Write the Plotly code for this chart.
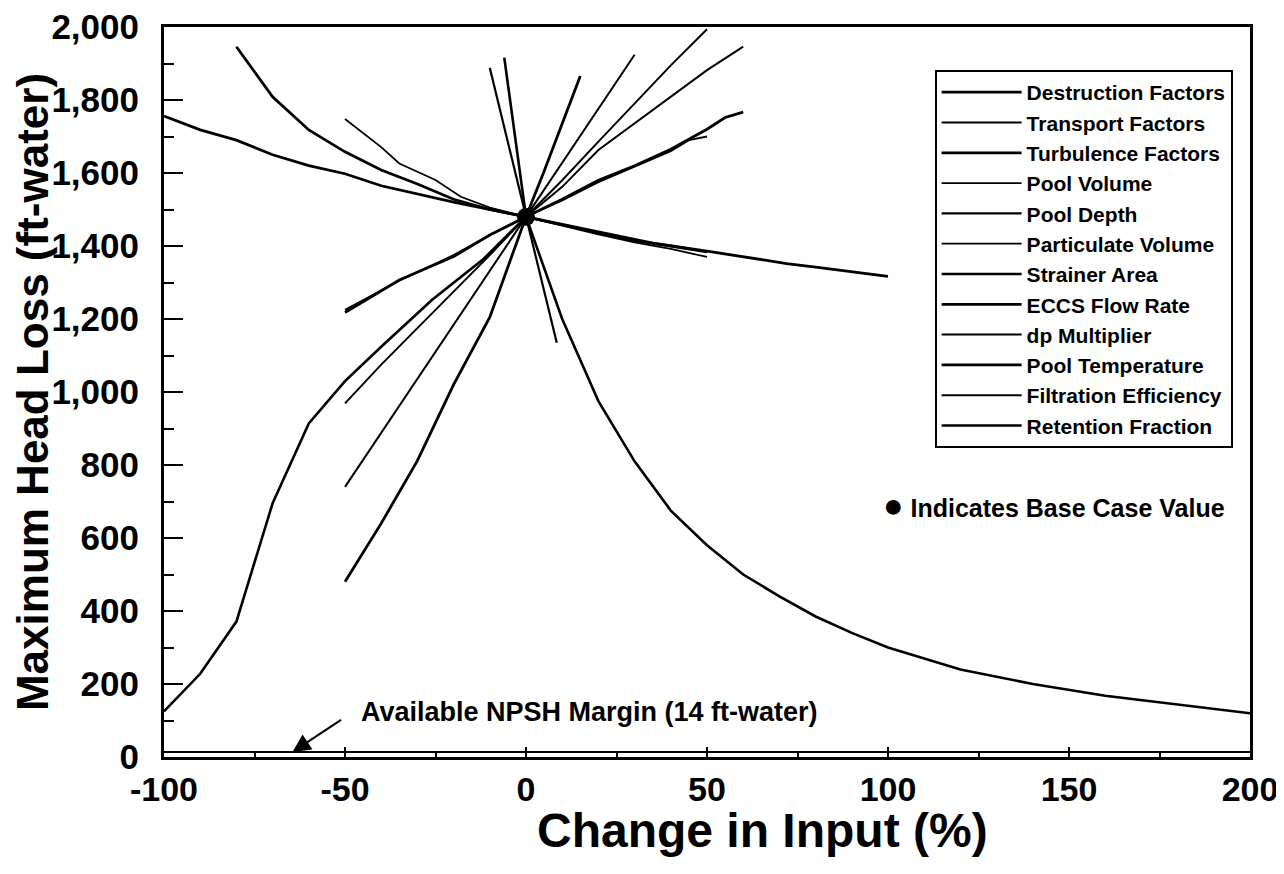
import plotly.graph_objects as go

# Sensitivity curves
destruction_x = [-50, -40, -30, -20, -10, 0, 5, 10, 15]
destruction_y = [480, 640, 812, 1020, 1205, 1480, 1605, 1735, 1866]

transport_x = [-50, -40, -30, -20, -10, 0, 10, 20, 30, 40, 50]
transport_y = [969, 1075, 1175, 1275, 1375, 1480, 1580, 1686, 1790, 1895, 1994]

turbulence_x = [-80, -70, -60, -50, -40, -30, -20, -10, 0, 10, 20, 30, 40, 50]
turbulence_y = [1946, 1809, 1718, 1658, 1608, 1570, 1528, 1500, 1480, 1458, 1436, 1415, 1400, 1384]

pool_volume_x = [-50, -40, -35, -25, -18, -10, 0, 10, 20, 30, 40, 50]
pool_volume_y = [1748, 1671, 1626, 1581, 1535, 1505, 1480, 1455, 1432, 1410, 1392, 1370]

pool_depth_x = [-10, -5, 0, 5, 8.5]
pool_depth_y = [1888, 1684, 1480, 1278, 1135]

particulate_x = [-50, -35, -20, -10, 0, 10, 20, 30, 40, 45, 50]
particulate_y = [1225, 1305, 1375, 1430, 1480, 1525, 1575, 1618, 1660, 1690, 1700]

strainer_x = [-6, -3, 0, 10, 20, 30, 40, 50, 60, 70, 80, 90, 100, 120, 140, 160, 180, 200]
strainer_y = [1916, 1700, 1480, 1200, 975, 810, 675, 580, 500, 440, 385, 340, 300, 240, 200, 168, 143, 120]

eccs_x = [-50, -35, -20, -10, 0, 10, 20, 30, 40, 50, 55, 60]
eccs_y = [1218, 1307, 1371, 1430, 1480, 1528, 1580, 1620, 1665, 1720, 1752, 1767]

dp_mult_x = [-50, -25, 0, 15, 30]
dp_mult_y = [740, 1110, 1480, 1702, 1924]

pool_temp_x = [-100, -90, -80, -70, -60, -50, -40, -20, 0, 20, 35, 50, 60, 72, 80, 100]
pool_temp_y = [1756, 1718, 1690, 1650, 1620, 1598, 1565, 1520, 1480, 1440, 1408, 1386, 1370, 1352, 1342, 1317]

filtration_x = [0, 10, 20, 35, 50, 60]
filtration_y = [1480, 1562, 1663, 1773, 1882, 1946]

retention_x = [-100, -90, -80, -70, -60, -50, -40, -26, -12, 0]
retention_y = [125, 228, 371, 695, 914, 1030, 1124, 1252, 1362, 1480]

base_x, base_y = 0, 1480
npsh_margin = 14

# tick labels use a plain hyphen like the original
x_tick_vals = [-100, -50, 0, 50, 100, 150, 200]
x_tick_text = ["-100", "-50", "0", "50", "100", "150", "200"]

series = [
    ("Destruction Factors", destruction_x, destruction_y, 2.8),
    ("Transport Factors", transport_x, transport_y, 2.0),
    ("Turbulence Factors", turbulence_x, turbulence_y, 2.8),
    ("Pool Volume", pool_volume_x, pool_volume_y, 1.8),
    ("Pool Depth", pool_depth_x, pool_depth_y, 2.2),
    ("Particulate Volume", particulate_x, particulate_y, 1.8),
    ("Strainer Area", strainer_x, strainer_y, 2.6),
    ("ECCS Flow Rate", eccs_x, eccs_y, 2.8),
    ("dp Multiplier", dp_mult_x, dp_mult_y, 2.0),
    ("Pool Temperature", pool_temp_x, pool_temp_y, 2.8),
    ("Filtration Efficiency", filtration_x, filtration_y, 2.0),
    ("Retention Fraction", retention_x, retention_y, 2.6),
]

FONT = "Liberation Sans"

fig = go.Figure()

for name, xs, ys, w in series:
    fig.add_trace(go.Scatter(x=xs, y=ys, mode="lines", name=name,
                             line=dict(color="black", width=w)))

# NPSH margin line
fig.add_trace(go.Scatter(x=[-100, 200], y=[npsh_margin, npsh_margin], mode="lines",
                         line=dict(color="black", width=2), showlegend=False))

# base case point
fig.add_trace(go.Scatter(x=[base_x], y=[base_y], mode="markers",
                         marker=dict(color="black", size=18), showlegend=False))

fig.add_annotation(x=-64.5, y=npsh_margin, xref="x", yref="y", text="",
                   showarrow=True, arrowhead=2, arrowsize=1.8, arrowwidth=2,
                   arrowcolor="black", ax=50, ay=-33)
fig.add_annotation(x=-46.2, y=123, xref="x", yref="y", showarrow=False,
                   xanchor="left", yanchor="middle",
                   text="Available NPSH Margin (14 ft-water)",
                   font=dict(family=FONT, size=27, weight="bold", color="black"))
fig.add_annotation(x=98.0, y=690, xref="x", yref="y", showarrow=False,
                   xanchor="left", yanchor="middle",
                   text="<span style='font-size:34px'>\u25CF</span> Indicates Base Case Value",
                   font=dict(family=FONT, size=25, weight="bold", color="black"))

# x-axis title, set slightly right of centre as in the original
fig.add_annotation(x=0.551, y=-0.101, xref="paper", yref="paper", showarrow=False,
                   xanchor="center", yanchor="middle", text="Change in Input (%)",
                   font=dict(family=FONT, size=48, weight="bold", color="black"))

# the page adds an 8px body margin, so the figure is 8px smaller than the window
fig.update_layout(
    width=1276, height=866,
    margin=dict(l=156, r=34, t=19, b=117, autoexpand=False),
    plot_bgcolor="white", paper_bgcolor="white",
    font=dict(family=FONT, color="black"),
    legend=dict(x=0.984, y=0.941, xanchor="right", yanchor="top",
                bgcolor="white", bordercolor="black", borderwidth=2,
                font=dict(family=FONT, size=21, weight="bold", color="black"),
                itemwidth=80, tracegroupgap=0),
)

fig.update_xaxes(
    range=[-100, 200], tickvals=x_tick_vals, ticktext=x_tick_text,
    showgrid=False, zeroline=False, automargin=False,
    showline=True, linecolor="black", linewidth=3, mirror=True,
    ticks="inside", ticklen=10, tickwidth=2, tickcolor="black",
    minor=dict(dtick=25, tick0=0, ticks="inside", ticklen=6, tickwidth=1.5, tickcolor="black"),
    ticklabelstandoff=0, ticklabeloverflow="allow",
    tickfont=dict(family=FONT, size=34, weight="bold", color="black"),
)
fig.update_yaxes(
    range=[0, 2000], dtick=200, tick0=0, tickformat=",d",
    showgrid=False, zeroline=False, automargin=False,
    showline=True, linecolor="black", linewidth=3, mirror=True,
    ticks="inside", ticklen=19, tickwidth=2, tickcolor="black",
    minor=dict(dtick=100, ticks="inside", ticklen=10, tickwidth=1.5, tickcolor="black"),
    ticklabelstandoff=15, ticklabeloverflow="allow",
    tickfont=dict(family=FONT, size=35, weight="bold", color="black"),
    title=dict(text="Maximum Head Loss (ft-water)", standoff=6,
               font=dict(family=FONT, size=44, weight="bold", color="black")),
)

fig.write_html("out.html")
